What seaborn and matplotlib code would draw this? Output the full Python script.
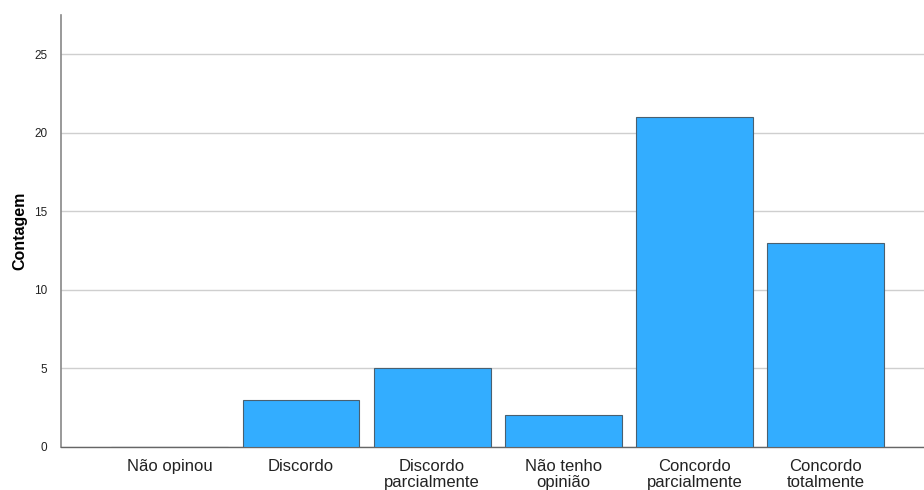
import matplotlib
matplotlib.use("Agg")

import matplotlib.pyplot as plt
import pandas as pd
import seaborn as sns

BAR_BLUE = "#33ADFF"
EDGE_GREY = "#4A6070"
GRID_GREY = "#CFCFCF"
TEXT_GREY = "#222222"

categories = [
    "Não opinou",
    "Discordo",
    "Discordo\nparcialmente",
    "Não tenho\nopinião",
    "Concordo\nparcialmente",
    "Concordo\ntotalmente",
]
counts = [0, 3, 5, 2, 21, 13]
y_ticks = [0, 5, 10, 15, 20, 25]


def main() -> None:
    sns.set_theme(style="white")
    plt.rcParams["font.family"] = ["Liberation Sans", "DejaVu Sans"]

    df = pd.DataFrame({"Categoria": categories, "Contagem": counts})

    fig = plt.figure(figsize=(9.24, 4.9), dpi=100)
    ax = fig.add_axes([0.066, 0.088, 0.934, 0.881])

    sns.barplot(
        data=df,
        x="Categoria",
        y="Contagem",
        color=BAR_BLUE,
        saturation=1,
        width=0.89,
        edgecolor=EDGE_GREY,
        linewidth=0.8,
        ax=ax,
        zorder=3,
    )

    ax.set_xlim(-0.83, 5.75)
    ax.set_ylim(0, 27.5)
    ax.set_yticks(y_ticks)
    ax.yaxis.grid(True, color=GRID_GREY, linewidth=1.0, zorder=0)
    ax.set_axisbelow(True)

    ax.tick_params(axis="y", labelsize=8.5, length=0, pad=10, colors=TEXT_GREY)
    ax.tick_params(axis="x", labelsize=12, length=0, pad=9, colors=TEXT_GREY)
    for lbl in ax.get_xticklabels():
        lbl.set_linespacing(1.05)

    ax.set_xlabel("")
    ax.set_ylabel("Contagem", fontsize=11.5, fontweight="bold", color="black", labelpad=5)

    for side in ["top", "right"]:
        ax.spines[side].set_visible(False)
    ax.spines["left"].set_color("#888888")
    ax.spines["left"].set_linewidth(1.2)
    ax.spines["bottom"].set_color("#666666")
    ax.spines["bottom"].set_linewidth(1.0)

    fig.savefig("out.png", dpi=100)
    plt.close(fig)


if __name__ == "__main__":
    main()
